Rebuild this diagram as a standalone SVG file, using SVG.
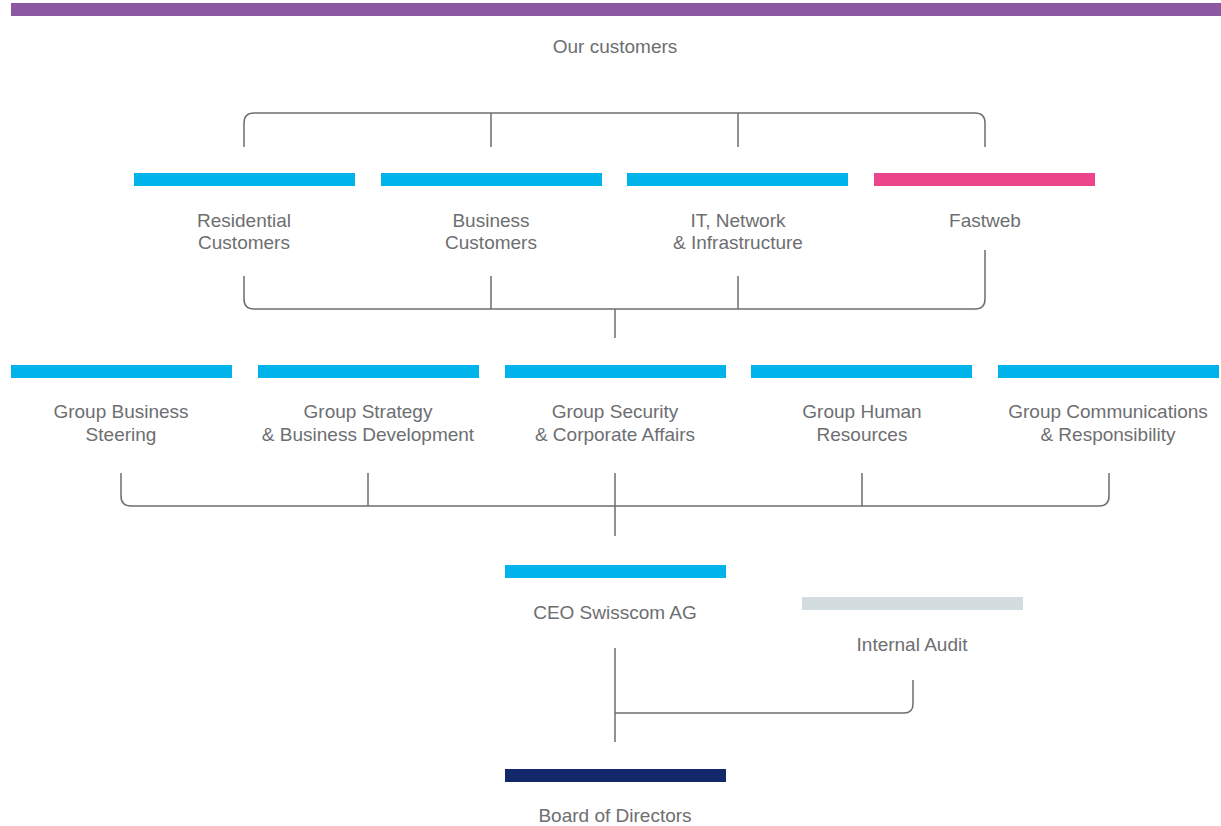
<svg xmlns="http://www.w3.org/2000/svg" width="1221" height="826" viewBox="0 0 1221 826">
<style>
text{font-family:"Liberation Sans",Arial,sans-serif;font-size:19px;fill:#6D6E71;text-anchor:middle}
.c{fill:none;stroke:#6D6E71;stroke-width:1.5}
.blue{fill:#00B4EB}
</style>
<rect width="1221" height="826" fill="#fff"/>
<g id="customers">
<rect x="11" y="3" width="1210" height="13" fill="#8B59A2"/>
<text x="615" y="53">Our customers</text>
</g>
<g id="connectors">
<path class="c" d="M244 147V123Q244 113 254 113H975Q985 113 985 123V147M491 113V147M738 113V147"/>
<path class="c" d="M244 276V299Q244 309 254 309H975Q985 309 985 299V250M491 276V309M738 276V309M615 309V338"/>
<path class="c" d="M121 473V496Q121 506 131 506H1099Q1109 506 1109 496V473M368 473V506M615 473V536M862 473V506"/>
<path class="c" d="M615 648V742M615 713H904Q913 713 913 704V680"/>
</g>
<g id="residential"><rect class="blue" x="134" y="173" width="221" height="13"/><text x="244" y="227">Residential</text><text x="244" y="249">Customers</text></g>
<g id="business"><rect class="blue" x="381" y="173" width="221" height="13"/><text x="491" y="227">Business</text><text x="491" y="249">Customers</text></g>
<g id="it"><rect class="blue" x="627" y="173" width="221" height="13"/><text x="738" y="227">IT, Network</text><text x="738" y="249">&amp; Infrastructure</text></g>
<g id="fastweb"><rect x="874" y="173" width="221" height="13" fill="#EC4589"/><text x="985" y="227">Fastweb</text></g>
<g id="gbs"><rect class="blue" x="11" y="365" width="221" height="13"/><text x="121" y="418">Group Business</text><text x="121" y="441">Steering</text></g>
<g id="gsbd"><rect class="blue" x="258" y="365" width="221" height="13"/><text x="368" y="418">Group Strategy</text><text x="368" y="441">&amp; Business Development</text></g>
<g id="gsca"><rect class="blue" x="505" y="365" width="221" height="13"/><text x="615" y="418">Group Security</text><text x="615" y="441">&amp; Corporate Affairs</text></g>
<g id="ghr"><rect class="blue" x="751" y="365" width="221" height="13"/><text x="862" y="418">Group Human</text><text x="862" y="441">Resources</text></g>
<g id="gcr"><rect class="blue" x="998" y="365" width="221" height="13"/><text x="1108" y="418">Group Communications</text><text x="1108" y="441">&amp; Responsibility</text></g>
<g id="ceo"><rect class="blue" x="505" y="565" width="221" height="13"/><text x="615" y="619">CEO Swisscom AG</text></g>
<g id="audit"><rect x="802" y="597" width="221" height="13" fill="#D3DCDE"/><text x="912" y="651">Internal Audit</text></g>
<g id="board"><rect x="505" y="769" width="221" height="13" fill="#12286B"/><text x="615" y="822">Board of Directors</text></g>
</svg>
